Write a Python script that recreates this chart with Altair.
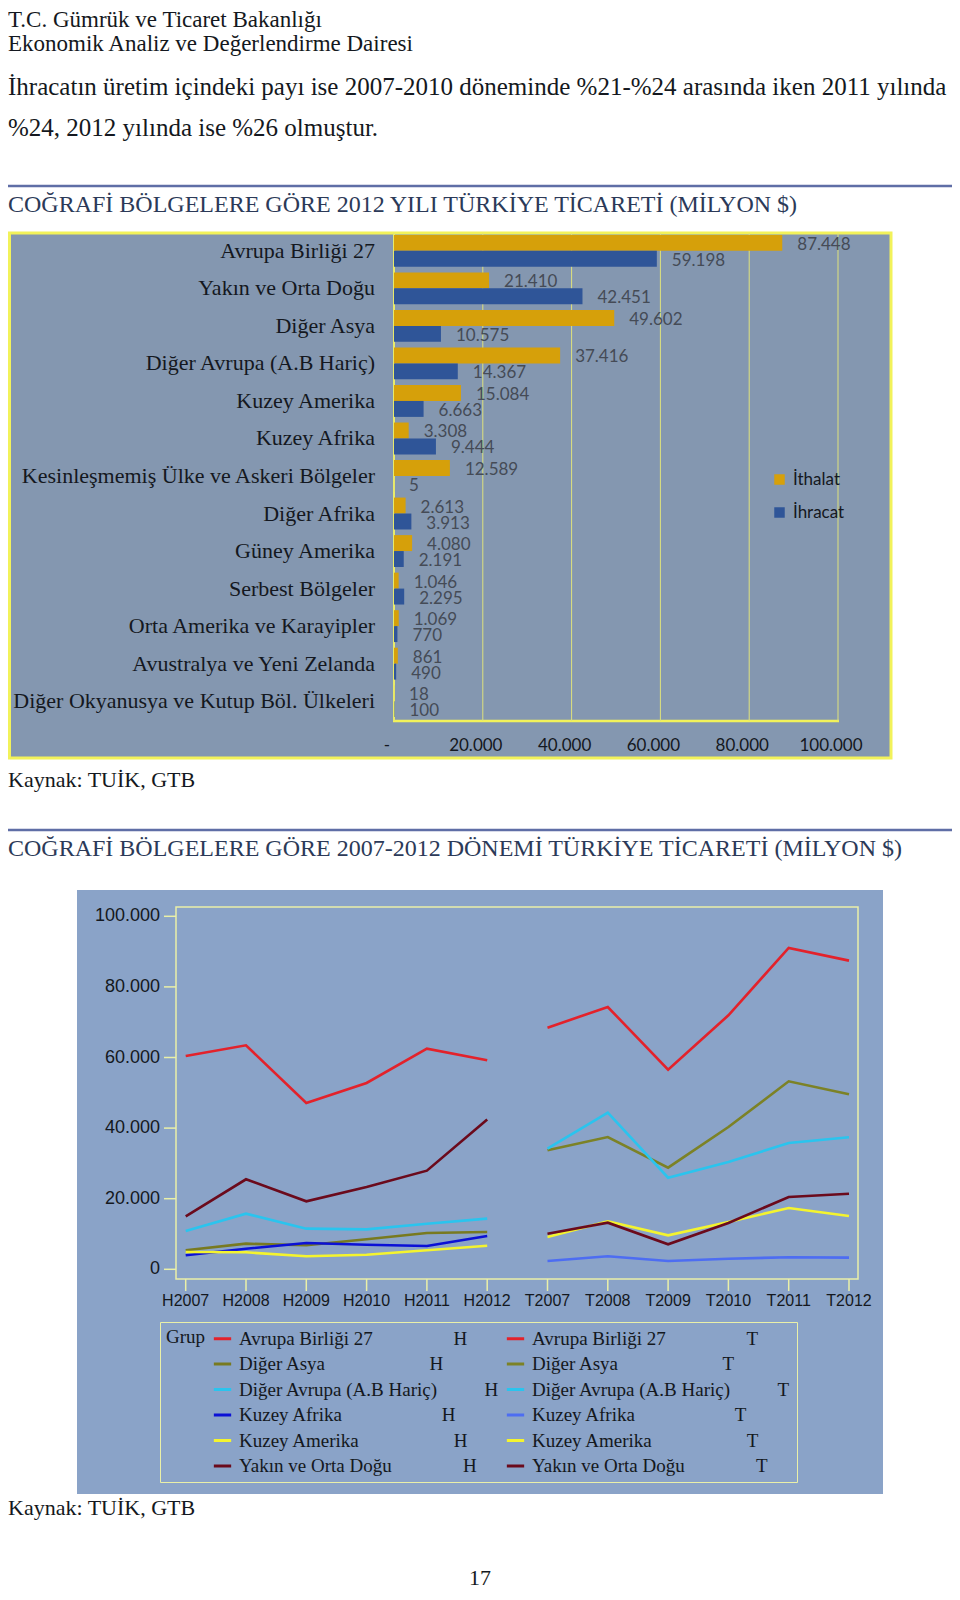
import altair as alt
import pandas as pd

# ---------------- page text ----------------
header_lines = ["T.C. Gümrük ve Ticaret Bakanlığı", "Ekonomik Analiz ve Değerlendirme Dairesi"]
paragraph_lines = [
    "İhracatın üretim içindeki payı ise 2007-2010 döneminde %21-%24 arasında iken 2011 yılında",
    "%24, 2012 yılında ise %26 olmuştur.",
]
title_bar = "COĞRAFİ BÖLGELERE GÖRE 2012 YILI TÜRKİYE TİCARETİ (MİLYON $)"
title_line = "COĞRAFİ BÖLGELERE GÖRE 2007-2012 DÖNEMİ TÜRKİYE TİCARETİ (MİLYON $)"
source_text = "Kaynak: TUİK, GTB"
page_number = "17"

# ---------------- bar chart data (2012) ----------------
regions = [
    "Avrupa Birliği 27", "Yakın ve Orta Doğu", "Diğer Asya", "Diğer Avrupa (A.B Hariç)",
    "Kuzey Amerika", "Kuzey Afrika", "Kesinleşmemiş Ülke ve Askeri Bölgeler", "Diğer Afrika",
    "Güney Amerika", "Serbest Bölgeler", "Orta Amerika ve Karayipler", "Avustralya ve Yeni Zelanda",
    "Diğer Okyanusya ve Kutup Böl. Ülkeleri",
]
imports_2012 = [87448, 21410, 49602, 37416, 15084, 3308, 12589, 2613, 4080, 1046, 1069, 861, 18]
exports_2012 = [59198, 42451, 10575, 14367, 6663, 9444, 5, 3913, 2191, 2295, 770, 490, 100]
trade_types = ["İthalat", "İhracat"]
bar_ticks = [0, 20000, 40000, 60000, 80000, 100000]

# ---------------- line chart data (2007-2012) ----------------
years = ["2007", "2008", "2009", "2010", "2011", "2012"]
line_groups = ["Avrupa Birliği 27", "Diğer Asya", "Diğer Avrupa (A.B Hariç)",
               "Kuzey Afrika", "Kuzey Amerika", "Yakın ve Orta Doğu"]
ab_h = [60430, 63460, 47110, 52780, 62500, 59198]
ab_t = [68450, 74310, 56550, 71960, 91020, 87448]
da_h = [5380, 7260, 6800, 8500, 10280, 10575]
da_t = [33710, 37480, 28790, 40310, 53260, 49602]
dav_h = [10850, 15760, 11510, 11320, 12920, 14367]
dav_t = [34170, 44370, 25950, 30400, 35780, 37416]
kaf_h = [3970, 5840, 7450, 6970, 6600, 9444]
kaf_t = [2350, 3680, 2350, 3000, 3400, 3308]
kam_h = [4900, 4810, 3680, 4140, 5380, 6663]
kam_t = [9150, 13600, 9630, 13410, 17370, 15084]
yod_h = [15010, 25500, 19260, 23320, 27940, 42451]
yod_t = [10090, 13200, 7080, 13120, 20480, 21410]
line_ticks = [0, 20000, 40000, 60000, 80000, 100000]
legend_gaps = [17, 22, 10, 21, 20, 15]

# ---------------- styles ----------------
GOLD = "#d6a00a"
BLUE = "#2f5598"
BAR_BG = "#8497b0"
LINE_BG = "#8aa3c8"
YELLOW = "#f2f25a"
PALE_YELLOW = "#eaf0a8"
GRID = "#dfe27c"
RULE = "#5f6ea6"
TITLE_C = "#2c3a58"
INK = "#141820"
SERIF = "Liberation Serif"
SANS = "Liberation Sans"

line_colors_h = ["#e3222b", "#787a20", "#2ac4ee", "#0b10d6", "#f4f42e", "#6b0a1c"]
line_colors_t = ["#e3222b", "#7c8226", "#2ac4ee", "#4d6df2", "#f4f42e", "#6b0a1c"]

W, H = 944, 1584
one = pd.DataFrame({"k": [0]})


def fmt_dot(v):
    return f"{v:,}".replace(",", ".")


def text_layer(txt, x, y, size, color=INK, font=SERIF, align="left"):
    return alt.Chart(pd.DataFrame({"t": [txt]})).mark_text(
        align=align, baseline="alphabetic", font=font, fontSize=size, color=color
    ).encode(x=alt.value(x), y=alt.value(y), text="t:N")


def rect_layer(x, x2, y, y2, fill=None, stroke=None, sw=0):
    kw = {}
    if fill:
        kw["fill"] = fill
    else:
        kw["fillOpacity"] = 0
    if stroke:
        kw.update(stroke=stroke, strokeWidth=sw)
    return alt.Chart(one).mark_rect(**kw).encode(
        x=alt.value(x), x2=alt.value(x2), y=alt.value(y), y2=alt.value(y2)
    )


def hrule(x, x2, y, color, sw):
    return alt.Chart(one).mark_rule(color=color, strokeWidth=sw).encode(
        x=alt.value(x), x2=alt.value(x2), y=alt.value(y)
    )


def vrule(x, y, y2, color, sw):
    return alt.Chart(one).mark_rule(color=color, strokeWidth=sw).encode(
        x=alt.value(x), y=alt.value(y), y2=alt.value(y2)
    )


# ---------------- geometry ----------------
BX0, BX1 = 386, 830      # bar plot left / right
BY0, BY1 = 225, 713      # bar plot top / bottom
LX0, LX1 = 168, 850      # line plot left / right
LY0, LY1 = 899, 1271     # line plot top / bottom

# ---------------- page decorations ----------------
deco = [
    text_layer(header_lines[0], 0, 19, 23),
    text_layer(header_lines[1], 0, 43, 23),
    text_layer(paragraph_lines[0], 0, 87, 25),
    text_layer(paragraph_lines[1], 0, 128, 25),
    hrule(0, W, 178, RULE, 2.5),
    text_layer(title_bar, 0, 204, 24, color=TITLE_C),
    rect_layer(1.5, 883, 225, 750, BAR_BG, YELLOW, 3),
    text_layer(source_text, 0, 779, 22),
    hrule(0, W, 822, RULE, 2.5),
    text_layer(title_line, 0, 848, 24, color=TITLE_C),
    rect_layer(69, 875, 882, 1486, LINE_BG),
    rect_layer(LX0, LX1, LY0, LY1, None, PALE_YELLOW, 1.5),
    text_layer(source_text, 0, 1507, 22),
    text_layer(page_number, 472, 1577, 22, align="center"),
]

# ---------------- bar chart ----------------
bar_df = pd.DataFrame({
    "Bölge": regions * 2,
    "Tür": [trade_types[0]] * len(regions) + [trade_types[1]] * len(regions),
    "Değer": imports_2012 + exports_2012,
})
bar_df["Etiket"] = [fmt_dot(v) for v in bar_df["Değer"]]

bar_tick_df = pd.DataFrame({"Değer": bar_ticks})
bar_tick_df["Etiket"] = ["-" if v == 0 else fmt_dot(v) for v in bar_ticks]

bx_scale = alt.Scale(domain=[0, 100000], range=[BX0, BX1], nice=False, zero=True)
by_scale = alt.Scale(domain=regions, range=[BY0, BY1 - 2], paddingInner=0.15, paddingOuter=0.05)

bx = alt.X("Değer:Q", scale=bx_scale, axis=None)
by = alt.Y("Bölge:N", scale=by_scale, axis=None)
byo = alt.YOffset("Tür:N", scale=alt.Scale(domain=trade_types))

bar_grid = alt.Chart(bar_tick_df).mark_rule(color=GRID, strokeWidth=1).encode(
    x=bx, y=alt.value(BY0), y2=alt.value(BY1)
)
bar_frame = [
    vrule(BX0, BY0, BY1, YELLOW, 2),
    hrule(BX0 - 1, BX1 + 1, BY1, YELLOW, 2.5),
]
bar_tick_labels = alt.Chart(bar_tick_df).mark_text(
    baseline="middle", dx=-7, font="Lato", fontSize=17, color=INK
).encode(x=bx, y=alt.value(738), text="Etiket:N")
bar_cat_labels = alt.Chart(pd.DataFrame({"Bölge": regions})).mark_text(
    align="right", baseline="middle", font=SERIF, fontSize=22, color=INK
).encode(x=alt.value(367), y=by, text="Bölge:N")

bar_base = alt.Chart(bar_df).encode(x=bx, y=by, yOffset=byo)
bars = bar_base.mark_bar().encode(
    color=alt.Color(
        "Tür:N",
        scale=alt.Scale(domain=trade_types, range=[GOLD, BLUE]),
        legend=alt.Legend(
            orient="none", legendX=763, legendY=463, title=None, direction="vertical",
            labelFont="Lato", labelFontSize=17, labelColor=INK, symbolType="square",
            symbolSize=110, symbolStrokeWidth=0, rowPadding=15, labelOffset=5, padding=0,
        ),
    )
)
bar_labels = bar_base.mark_text(
    align="left", baseline="middle", dx=15, dy=2, font="Lato", fontSize=17, color="#454b56"
).encode(text="Etiket:N")

bar_group = alt.layer(bar_grid, bars, bar_labels, bar_cat_labels, bar_tick_labels)

# ---------------- line chart ----------------
periods = ["H" + y for y in years] + ["T" + y for y in years]
nb = "\u00a0"
h_values = [ab_h, da_h, dav_h, kaf_h, kam_h, yod_h]
t_values = [ab_t, da_t, dav_t, kaf_t, kam_t, yod_t]

rows = []
series_keys = []
series_colors = []
for g, hv, tv, gap, ch, ct in zip(line_groups, h_values, t_values, legend_gaps,
                                  line_colors_h, line_colors_t):
    kh = g + nb * gap + "H"
    kt = g + nb * gap + "T"
    series_keys += [kh, kt]
    series_colors += [ch, ct]
    for y, v in zip(years, hv):
        rows.append({"Dönem": "H" + y, "Seri": kh, "Tutar": v})
    for y, v in zip(years, tv):
        rows.append({"Dönem": "T" + y, "Seri": kt, "Tutar": v})
line_df = pd.DataFrame(rows)

lx = alt.X("Dönem:N", scale=alt.Scale(type="point", domain=periods, range=[177.7, 841], padding=0),
           axis=None)
ly = alt.Y("Tutar:Q", scale=alt.Scale(domain=[0, 100000], range=[1261.3, 908.3], nice=False, zero=False),
           axis=None)

ytick_df = pd.DataFrame({"Tutar": line_ticks})
ytick_df["Etiket"] = [fmt_dot(v) for v in line_ticks]
xtick_df = pd.DataFrame({"Dönem": periods})

y_ticks = alt.Chart(ytick_df).mark_rule(color=PALE_YELLOW, strokeWidth=1.5).encode(
    y=ly, x=alt.value(LX0 - 12), x2=alt.value(LX0)
)
y_labels = alt.Chart(ytick_df).mark_text(
    align="right", baseline="middle", font=SANS, fontSize=18, color=INK
).encode(y=ly, x=alt.value(LX0 - 16), text="Etiket:N")
x_ticks = alt.Chart(xtick_df).mark_rule(color=PALE_YELLOW, strokeWidth=1.5).encode(
    x=lx, y=alt.value(LY1), y2=alt.value(LY1 + 12)
)
x_labels = alt.Chart(xtick_df).mark_text(
    align="center", baseline="middle", font=SANS, fontSize=16, color=INK
).encode(x=lx, y=alt.value(LY1 + 22), text="Dönem:N")

lines = alt.Chart(line_df).mark_line(strokeWidth=2.6).encode(
    x=lx,
    y=ly,
    color=alt.Color(
        "Seri:N",
        scale=alt.Scale(domain=series_keys, range=series_colors),
        legend=alt.Legend(
            orient="none", legendX=152, legendY=1314, columns=2, direction="horizontal",
            title="Grup", titleOrient="left", titleFont=SERIF, titleFontSize=19,
            titleFontWeight="normal", titleColor=INK, titleAnchor="start", titlePadding=6,
            titleBaseline="top", labelFont=SERIF, labelFontSize=19, labelColor=INK,
            labelLimit=600, symbolType="stroke", symbolStrokeWidth=3, symbolSize=300,
            rowPadding=4.5, columnPadding=0, padding=6, strokeColor=PALE_YELLOW,
            fillColor=LINE_BG, labelOffset=6,
        ),
    ),
)

line_group = alt.layer(y_ticks, y_labels, x_ticks, x_labels, lines)

chart = alt.layer(*deco, *bar_frame, bar_group, line_group).resolve_scale(
    x="independent", y="independent", color="independent"
).properties(
    width=W, height=H, padding=0, background="white",
    autosize=alt.AutoSizeParams(type="none"),
).configure_view(stroke=None)

chart.save("out.html", embed_options={"renderer": "svg", "actions": False})
